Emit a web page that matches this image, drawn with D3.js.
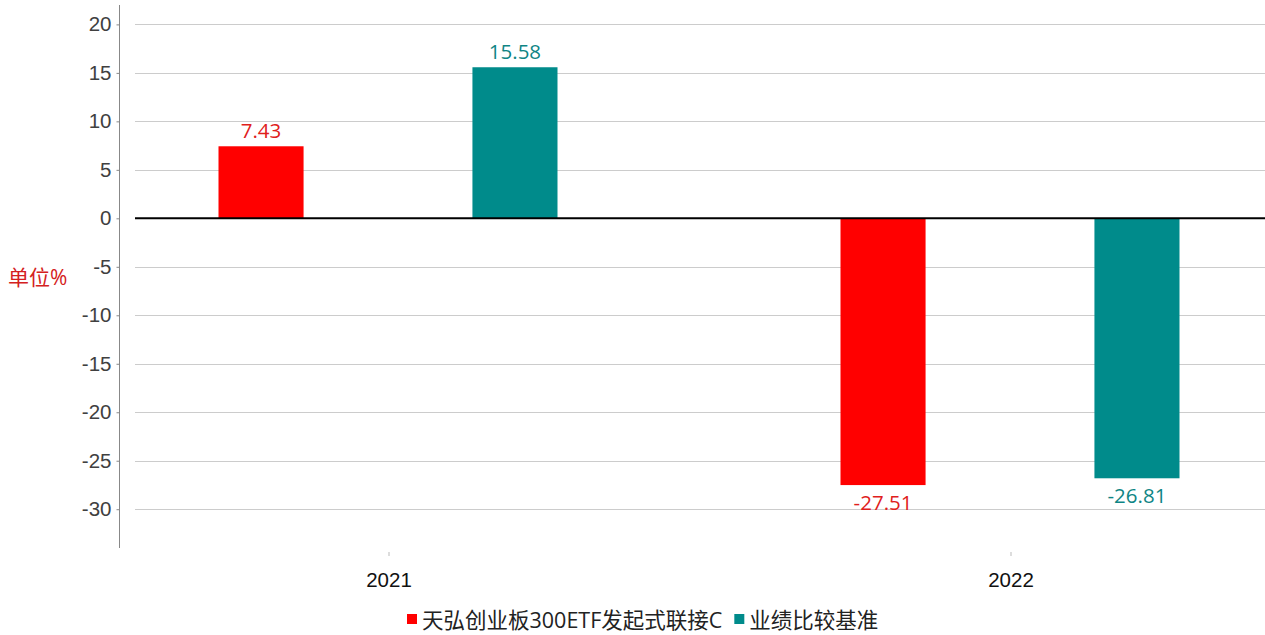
<!DOCTYPE html>
<html>
<head>
<meta charset="utf-8">
<script src="https://cdn.jsdelivr.net/npm/d3@7"></script>
<style>
  body { margin: 0; background: #fff; }
  svg { font-family: "Open Sans", "Noto Sans CJK SC", sans-serif; }
</style>
</head>
<body>
<div id="chart"></div>
<script>
// data
var years = ["2021", "2022"];
var seriesNames = ["天弘创业板300ETF发起式联接C", "业绩比较基准"];
var fundValues = [7.43, -27.51];
var benchValues = [15.58, -26.81];
var yTicks = [20, 15, 10, 5, 0, -5, -10, -15, -20, -25, -30];
var colors = ["#ff0000", "#008b8b"];
var labelColors = ["#e0201c", "#0f8585"];

var width = 1265, height = 635;

// plain hyphen for negatives, like the original
var fmt0 = function(d) { return String(d); };
var fmt2 = function(d) { return d.toFixed(2); };

var svg = d3.select("#chart")
  .append("svg")
  .attr("width", width)
  .attr("height", height);

// y scale: 0 sits at 218.5, 20 at 24.5
var y = d3.scaleLinear().domain([-34, 22]).range([548, 5]);

// category centres
var x = d3.scalePoint().domain(years).range([388, 1010]);
// series inside a category
var xs = d3.scaleBand().domain(seriesNames).range([-169.5, 169.5]).paddingInner(0.665).paddingOuter(0);

// gridlines
svg.append("g")
  .selectAll("line")
  .data(yTicks.filter(function(d) { return d !== 0; }))
  .enter()
  .append("line")
    .attr("x1", 135)
    .attr("x2", width)
    .attr("y1", function(d) { return Math.round(y(d)) + 0.5; })
    .attr("y2", function(d) { return Math.round(y(d)) + 0.5; })
    .style("stroke", "#cccccc")
    .style("stroke-width", 1);

// y axis
var yAxis = d3.axisLeft(y).tickValues(yTicks).tickFormat(fmt0).tickSize(3).tickPadding(5);
var ga = svg.append("g")
  .attr("transform", "translate(119.5,0)")
  .call(yAxis);
ga.select(".domain").attr("d", "M0," + y(22) + "V" + y(-34)).style("stroke", "#888");
ga.selectAll(".tick line").style("stroke", "#888");
ga.selectAll(".tick text")
  .style("font-size", "20.5px")
  .style("fill", "#404040");

// unit label
svg.append("text")
  .attr("x", 8)
  .attr("y", 278)
  .attr("dy", "0.35em")
  .style("font-size", "21px")
  .style("fill", "#d42020")
  .text("单位%");

// bars
var rows = [];
years.forEach(function(yr, i) {
  rows.push({ year: yr, s: 0, v: fundValues[i] });
  rows.push({ year: yr, s: 1, v: benchValues[i] });
});

svg.append("g")
  .selectAll("rect")
  .data(rows)
  .enter()
  .append("rect")
    .attr("x", function(d) { return x(d.year) + xs(seriesNames[d.s]); })
    .attr("width", xs.bandwidth())
    .attr("y", function(d) { return y(Math.max(0, d.v)); })
    .attr("height", function(d) { return Math.abs(y(d.v) - y(0)); })
    .style("fill", function(d) { return colors[d.s]; });

// value labels
svg.append("g")
  .selectAll("text")
  .data(rows)
  .enter()
  .append("text")
    .attr("x", function(d) { return x(d.year) + xs(seriesNames[d.s]) + xs.bandwidth() / 2; })
    .attr("y", function(d) { return d.v >= 0 ? y(d.v) - 8 : y(d.v) + 25; })
    .attr("text-anchor", "middle")
    .style("font-size", "20.5px")
    .style("fill", function(d) { return labelColors[d.s]; })
    .text(function(d) { return fmt2(d.v); });

// zero line
svg.append("line")
  .attr("x1", 135)
  .attr("x2", width)
  .attr("y1", y(0))
  .attr("y2", y(0))
  .style("stroke", "#000")
  .style("stroke-width", 2);

// x axis (ticks + labels only)
var xAxis = d3.axisBottom(x).tickSize(4).tickPadding(16);
var gx = svg.append("g")
  .attr("transform", "translate(0.5,552)")
  .call(xAxis);
gx.select(".domain").remove();
gx.selectAll(".tick line").style("stroke", "#bbb");
gx.selectAll(".tick text")
  .style("font-size", "20.5px")
  .style("fill", "#111");

// legend
var legend = svg.append("g").attr("transform", "translate(407,620)");
var lx = 0;
seriesNames.forEach(function(name, i) {
  var item = legend.append("g").attr("transform", "translate(" + lx + ",0)");
  item.append("rect")
    .attr("x", 0)
    .attr("y", -6)
    .attr("width", 10)
    .attr("height", 10)
    .style("fill", colors[i]);
  var t = item.append("text")
    .attr("x", 15)
    .attr("y", 0)
    .attr("dy", "0.35em")
    .style("font-size", "21.5px")
    .style("fill", "#222")
    .text(name);
  lx += 15 + t.node().getComputedTextLength() + 12;
});
</script>
</body>
</html>
